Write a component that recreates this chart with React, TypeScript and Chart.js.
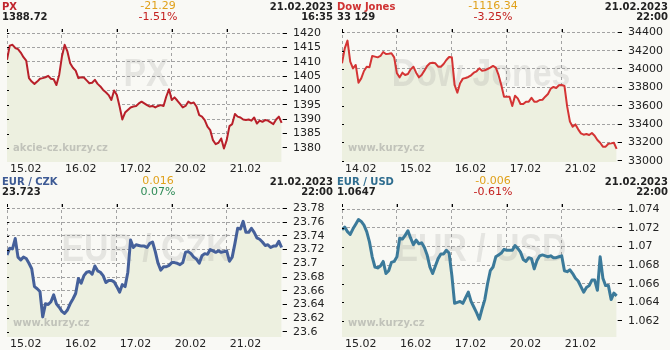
import React, { useEffect, useRef } from "react";
import { Chart, registerables } from "chart.js";

Chart.register(...registerables);

// ---------- data ----------
const POINTS_PER_DAY = 20;

const pxDays = ["15.02", "16.02", "17.02", "20.02", "21.02"];
const pxTicks = [1380, 1385, 1390, 1395, 1400, 1405, 1410, 1415, 1420];
const pxValues = [
  1410.7, 1415.6, 1415.9, 1414.8, 1414.4, 1413.2, 1411.6, 1410.4, 1404.3, 1403.1,
  1402.3, 1403.1, 1404.1, 1404.3, 1404.6, 1405.1, 1404.1, 1403.9, 1401.9, 1405.4,
  1411.8, 1415.9, 1413.6, 1409.5, 1407.9, 1406.9, 1404.3, 1404.6, 1404.5, 1403.5,
  1402.5, 1402.7, 1403.7, 1402.3, 1401.4, 1400.2, 1399.4, 1398.4, 1396.7, 1400.0,
  1398.4, 1394.4, 1389.9, 1392.3, 1393.2, 1394.1, 1394.4, 1394.6, 1395.5, 1396.1,
  1395.5, 1394.9, 1394.4, 1394.6, 1394.1, 1394.6, 1394.9, 1394.6, 1397.9, 1400.4,
  1396.7, 1397.6, 1396.5, 1395.3, 1394.1, 1394.6, 1396.1, 1395.5, 1395.8, 1394.4,
  1391.4, 1390.9, 1389.7, 1387.4, 1386.2, 1382.7, 1381.3, 1381.8, 1383.3, 1379.8,
  1382.7, 1387.6, 1388.3, 1391.8, 1390.9, 1390.6, 1389.9, 1389.7, 1389.9, 1389.5,
  1390.6, 1388.5, 1389.5, 1389.1, 1389.7, 1389.5, 1388.9, 1388.3, 1389.9, 1390.9,
  1388.7,
];

const djDays = ["14.02", "15.02", "16.02", "17.02", "21.02"];
const djTicks = [33000, 33200, 33400, 33600, 33800, 34000, 34200, 34400];
const djValues = [
  34062, 34225, 34309, 34080, 34007, 34044, 33851, 33898, 33978, 34025,
  34018, 34142, 34135, 34127, 34142, 34185, 34164, 34167, 34171, 34127,
  33953, 33909, 33960, 33935, 33945, 33996, 34025, 33960, 33909, 33935,
  33982, 34033, 34062, 34069, 34062, 34025, 34025, 34055, 34098, 34131,
  34127, 33826, 33742, 33844, 33895, 33902, 33913, 33931, 33960, 33975,
  34007, 33982, 33986, 34000, 34014, 34033, 34014, 33935, 33826, 33698,
  33698, 33698, 33596, 33709, 33680, 33618, 33618, 33644, 33644, 33687,
  33644, 33644, 33662, 33665, 33698, 33727, 33786, 33804, 33793, 33822,
  33826, 33815, 33589, 33426, 33371, 33396, 33342, 33298, 33284, 33291,
  33280, 33302, 33273, 33225, 33196, 33153, 33153, 33185, 33189, 33196,
  33129,
];

const czkDays = ["15.02", "16.02", "17.02", "20.02", "21.02"];
const czkTicks = [23.6, 23.62, 23.64, 23.66, 23.68, 23.7, 23.72, 23.74, 23.76, 23.78];
const czkValues = [
  23.712, 23.722, 23.721, 23.736, 23.709, 23.705, 23.709, 23.707, 23.700, 23.692,
  23.666, 23.663, 23.659, 23.622, 23.641, 23.640, 23.644, 23.654, 23.641, 23.636,
  23.630, 23.627, 23.632, 23.641, 23.648, 23.656, 23.678, 23.671, 23.682, 23.687,
  23.688, 23.684, 23.696, 23.689, 23.687, 23.682, 23.672, 23.675, 23.675, 23.673,
  23.666, 23.658, 23.669, 23.666, 23.687, 23.734, 23.723, 23.727, 23.726, 23.725,
  23.725, 23.723, 23.729, 23.731, 23.717, 23.700, 23.690, 23.695, 23.695, 23.697,
  23.701, 23.701, 23.700, 23.698, 23.701, 23.716, 23.717, 23.714, 23.709, 23.706,
  23.700, 23.711, 23.714, 23.713, 23.720, 23.718, 23.716, 23.718, 23.716, 23.717,
  23.718, 23.703, 23.709, 23.729, 23.751, 23.750, 23.761, 23.745, 23.745, 23.751,
  23.745, 23.737, 23.735, 23.731, 23.726, 23.727, 23.723, 23.725, 23.725, 23.732,
  23.723,
];

const usdDays = ["15.02", "16.02", "17.02", "20.02", "21.02"];
const usdTicks = [1.062, 1.064, 1.066, 1.068, 1.07, 1.072, 1.074];
const usdValues = [
  1.0718, 1.0721, 1.0716, 1.0713, 1.0719, 1.0724, 1.0729, 1.0727, 1.0723, 1.0716,
  1.0705, 1.0689, 1.0678, 1.0677, 1.0679, 1.0684, 1.0671, 1.0674, 1.0683, 1.0684,
  1.0689, 1.0709, 1.0708, 1.0712, 1.0717, 1.0709, 1.0702, 1.0707, 1.0703, 1.0704,
  1.0699, 1.0691, 1.0678, 1.0671, 1.0679, 1.0687, 1.0692, 1.0692, 1.0696, 1.0693,
  1.0669, 1.0639, 1.0640, 1.0641, 1.0639, 1.0645, 1.0651, 1.0641, 1.0635, 1.0629,
  1.0622, 1.0633, 1.0643, 1.0660, 1.0674, 1.0678, 1.0689, 1.0691, 1.0693, 1.0697,
  1.0696, 1.0696, 1.0696, 1.0701, 1.0698, 1.0694, 1.0686, 1.0684, 1.0688, 1.0687,
  1.0676, 1.0685, 1.0690, 1.0691, 1.0690, 1.0689, 1.0690, 1.0688, 1.0688, 1.0689,
  1.0690, 1.0674, 1.0673, 1.0675, 1.0671, 1.0666, 1.0663, 1.0657, 1.0651, 1.0656,
  1.0658, 1.0664, 1.0664, 1.0653, 1.0689, 1.0666, 1.0658, 1.0658, 1.0643, 1.0650,
  1.0647,
];

// ---------- styling ----------
const BG = "#f9f9f5";
const FILL = "#edf0e0";
const GRID = "#a3a3a3";
const ORANGE = "#e0a11b";

type PanelDef = {
  name: string;
  nameColor: string;
  last: string;
  change: string;
  pct: string;
  pctColor: string;
  date: string;
  time: string;
  watermark: string;
  site: string;
  values: number[];
  days: string[];
  yTicks: number[];
  yMin: number;
  yMax: number;
  lineColor: string;
  lineWidth: number;
};

const panels: PanelDef[] = [
  {
    name: "PX", nameColor: "#c0242c", last: "1388.72", change: "-21.29", pct: "-1.51%",
    pctColor: "#c4201f", date: "21.02.2023", time: "16:35", watermark: "PX",
    site: "akcie-cz.kurzy.cz", values: pxValues, days: pxDays, yTicks: pxTicks,
    yMin: 1375.1, yMax: 1421.4, lineColor: "#b8202a", lineWidth: 2,
  },
  {
    name: "Dow Jones", nameColor: "#cf3232", last: "33 129", change: "-1116.34", pct: "-3.25%",
    pctColor: "#c4201f", date: "21.02.2023", time: "22:00", watermark: "Dow Jones",
    site: "www.kurzy.cz", values: djValues, days: djDays, yTicks: djTicks,
    yMin: 32986, yMax: 34436, lineColor: "#d43434", lineWidth: 2,
  },
  {
    name: "EUR / CZK", nameColor: "#3d5a94", last: "23.723", change: "0.016", pct: "0.07%",
    pctColor: "#2e8b57", date: "21.02.2023", time: "22:00", watermark: "EUR / CZK",
    site: "www.kurzy.cz", values: czkValues, days: czkDays, yTicks: czkTicks,
    yMin: 23.5927, yMax: 23.7863, lineColor: "#45609a", lineWidth: 3,
  },
  {
    name: "EUR / USD", nameColor: "#2f6d8f", last: "1.0647", change: "-0.006", pct: "-0.61%",
    pctColor: "#c4201f", date: "21.02.2023", time: "22:00", watermark: "EUR / USD",
    site: "www.kurzy.cz", values: usdValues, days: usdDays, yTicks: usdTicks,
    yMin: 1.06028, yMax: 1.07457, lineColor: "#3b7a9a", lineWidth: 3,
  },
];

const PANEL_W = 335;
const PANEL_H = 175;

const hdr: React.CSSProperties = {
  position: "absolute",
  font: 'bold 10px "DejaVu Sans", sans-serif',
  lineHeight: "12px",
  whiteSpace: "nowrap",
};

const mid: React.CSSProperties = {
  position: "absolute",
  font: '11px "DejaVu Sans", sans-serif',
  lineHeight: "12px",
  whiteSpace: "nowrap",
  left: 98,
  width: 120,
  textAlign: "center",
};

function ChartPanel({ p, left, top }: { p: PanelDef; left: number; top: number }) {
  const ref = useRef<HTMLCanvasElement | null>(null);

  useEffect(() => {
    const canvas = ref.current;
    if (!canvas) return;
    const tickIdx = p.days.map((_, i) => i * POINTS_PER_DAY);

    const overlay = {
      id: "overlay",
      beforeDatasetDraw(chart: any) {
        const { ctx, chartArea: a } = chart;
        ctx.save();
        ctx.beginPath();
        ctx.rect(a.left, a.top, a.right - a.left, a.bottom - a.top);
        ctx.clip();
        ctx.save();
        ctx.fillStyle = "rgba(140,140,140,0.18)";
        ctx.font = 'bold 38px "Liberation Sans", Arial, sans-serif';
        ctx.textAlign = "center";
        ctx.textBaseline = "alphabetic";
        ctx.translate((a.left + a.right) / 2 + 1, 86);
        ctx.scale(0.89, 1);
        ctx.fillText(p.watermark, 0, 0);
        ctx.restore();
        ctx.font = 'bold 10px "DejaVu Sans", sans-serif';
        ctx.fillStyle = "rgba(140,140,140,0.45)";
        ctx.textAlign = "left";
        ctx.textBaseline = "alphabetic";
        ctx.fillText(p.site, 13, 151);
        ctx.restore();
      },
      afterDraw(chart: any) {
        const { ctx, chartArea: a } = chart;
        const ys = chart.scales.y;
        const xs = chart.scales.x;
        ctx.save();
        ctx.fillStyle = "#000";
        ys.ticks.forEach((t: any) => {
          const y = Math.round(ys.getPixelForValue(t.value));
          ctx.fillRect(a.left, y, 2, 1);
        });
        xs.ticks.forEach((t: any) => {
          const x = Math.round(xs.getPixelForValue(t.value));
          ctx.fillRect(x, a.top, 1, 3);
        });
        ctx.restore();
      },
    };

    const chart = new Chart(canvas, {
      type: "line",
      data: {
        labels: p.values.map((_, i) => i),
        datasets: [
          {
            data: p.values,
            borderColor: p.lineColor,
            borderWidth: p.lineWidth,
            borderJoinStyle: "round",
            pointRadius: 0,
            tension: 0,
            fill: "start",
            backgroundColor: FILL,
          },
        ],
      },
      options: {
        animation: false,
        responsive: false,
        maintainAspectRatio: false,
        layout: { padding: { top: 29, left: 7, right: 0, bottom: 0 } },
        plugins: { legend: { display: false }, tooltip: { enabled: false } },
        scales: {
          x: {
            type: "linear",
            min: 0,
            max: p.values.length - 0.5,
            afterBuildTicks: (s: any) => {
              s.ticks = tickIdx.map((v) => ({ value: v }));
            },
            afterFit: (s: any) => {
              s.height = 13;
            },
            grid: { color: GRID, lineWidth: 1, drawTicks: false },
            border: { display: false, dash: [3, 3] },
            ticks: {
              align: "start",
              labelOffset: 3,
              padding: 1,
              autoSkip: false,
              maxRotation: 0,
              color: "#222",
              font: { family: "DejaVu Sans", size: 11 },
              callback: (v: any) => {
                const i = tickIdx.indexOf(Number(v));
                return i >= 0 ? p.days[i] : "";
              },
            },
          },
          y: {
            type: "linear",
            position: "right",
            min: p.yMin,
            max: p.yMax,
            afterBuildTicks: (s: any) => {
              s.ticks = p.yTicks.map((v) => ({ value: v }));
            },
            afterFit: (s: any) => {
              s.width = 52;
            },
            grid: {
              color: GRID,
              lineWidth: 1,
              tickColor: "#000",
              tickLength: 4,
              tickWidth: 1,
              tickBorderDash: [],
            },
            border: { display: false, dash: [3, 2] },
            ticks: {
              padding: 6,
              autoSkip: false,
              color: "#222",
              font: { family: "DejaVu Sans", size: 11 },
              callback: (v: any) => String(Number(Number(v).toFixed(4))),
            },
          },
        },
      },
      plugins: [overlay],
    } as any);

    return () => chart.destroy();
  }, [p]);

  return (
    <div style={{ position: "absolute", left, top, width: PANEL_W, height: PANEL_H, background: BG, overflow: "hidden" }}>
      <canvas
        ref={ref}
        width={PANEL_W}
        height={PANEL_H}
        style={{ position: "absolute", left: 0, top: 0, width: PANEL_W, height: PANEL_H }}
      />
      <div style={{ ...hdr, left: 2, top: 0.5, color: p.nameColor }}>{p.name}</div>
      <div style={{ ...hdr, left: 2, top: 10.5, color: "#222" }}>{p.last}</div>
      <div style={{ ...mid, top: 0, color: ORANGE }}>{p.change}</div>
      <div style={{ ...mid, top: 10.5, color: p.pctColor }}>{p.pct}</div>
      <div style={{ ...hdr, right: 2, top: 0.5, textAlign: "right", color: "#222" }}>{p.date}</div>
      <div style={{ ...hdr, right: 2, top: 10.5, textAlign: "right", color: "#222" }}>{p.time}</div>
    </div>
  );
}

export default function App() {
  return (
    <div style={{ position: "fixed", left: 0, top: 0, width: 670, height: 350, background: BG }}>
      <ChartPanel p={panels[0]} left={0} top={0} />
      <ChartPanel p={panels[1]} left={PANEL_W} top={0} />
      <ChartPanel p={panels[2]} left={0} top={PANEL_H} />
      <ChartPanel p={panels[3]} left={PANEL_W} top={PANEL_H} />
    </div>
  );
}
